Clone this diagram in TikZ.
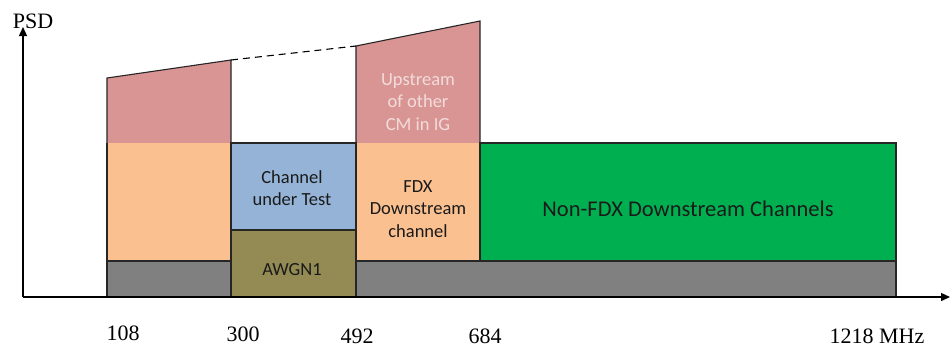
\documentclass[tikz,border=0pt]{standalone}
\usepackage{fontspec}
\setmainfont{Liberation Serif}
\newfontfamily\calfont{Carlito}
\usetikzlibrary{arrows.meta}
\definecolor{pinkc}{HTML}{D99594}
\definecolor{orangec}{HTML}{FAC090}
\definecolor{bluec}{HTML}{95B3D7}
\definecolor{olivec}{HTML}{948A54}
\definecolor{grayc}{HTML}{808080}
\definecolor{greenc}{HTML}{00B050}
\definecolor{lightpink}{HTML}{F2DCDB}
\definecolor{textc}{HTML}{1A1A1A}
\begin{document}
\begin{tikzpicture}[x=1pt,y=-1pt,
  edge/.style={draw=black!85,line width=1.1pt},
  axis/.style={draw=black,line width=1.4pt,-{Triangle[length=9pt,width=8pt]}},
  band/.style={font=\calfont\fontsize{18.5}{22.5}\selectfont,text=textc,align=center,inner sep=0pt},
  tick/.style={font=\fontsize{22}{24}\selectfont,inner sep=0pt}]
\useasboundingbox (0,0) rectangle (951,349);
% fills
\fill[pinkc] (107,78) -- (231,60) -- (231,143) -- (107,143) -- cycle;
\fill[pinkc] (356,46) -- (480,21) -- (480,143) -- (356,143) -- cycle;
\fill[orangec] (107,143) rectangle (231,261);
\fill[orangec] (356,143) rectangle (480,261);
\fill[bluec] (231,143) rectangle (356,230);
\fill[olivec] (231,230) rectangle (356,297);
\fill[grayc] (107,261) rectangle (231,297);
\fill[grayc] (356,261) rectangle (896,297);
\fill[greenc] (480,143) rectangle (896,261);
% outlines
\draw[edge] (107,143) -- (107,78) -- (231,60) -- (231,143);
\draw[edge] (356,143) -- (356,46) -- (480,21) -- (480,143);
\draw[edge] (107,143) -- (107,261);
\draw[edge] (480,143) rectangle (896,261);
\draw[edge] (356,143) -- (356,261);
\draw[edge] (231,143) rectangle (356,230);
\draw[edge] (231,230) rectangle (356,297);
\draw[edge] (107,261) rectangle (231,297);
\draw[edge] (356,261) rectangle (896,297);
% dashed extension
\coordinate (d1) at (231,60);
\coordinate (d2) at (356,46);
\draw[black,line width=1.1pt,dash pattern=on 7pt off 5pt] (d1) -- (d2);
% texts
\node[band,text=lightpink] (up) at (418,102) {Upstream\\of other\\CM in IG};
\node[band] (cut) at (292,188) {Channel\\under Test};
\node[band] (fdx) at (418,209) {FDX\\Downstream\\channel};
\node[band] (awgn) at (292,270) {AWGN1};
\node[band,font=\calfont\fontsize{22.5}{26}\selectfont] (nonfdx) at (688,209) {Non-FDX Downstream Channels};
% axes
\coordinate (o) at (23,297);
\coordinate (xe) at (950,297);
\coordinate (ye) at (23,27);
\draw[axis] (o) -- (xe);
\draw[axis] (o) -- (ye);
\node[tick] (psd) at (33,21) {PSD};
\node[tick] (t108) at (123,333) {108};
\node[tick] (t300) at (243,334) {300};
\node[tick] (t492) at (357,336) {492};
\node[tick] (t684) at (485,336) {684};
\node[tick] (t1218) at (877,336) {1218 MHz};
\end{tikzpicture}
\end{document}
